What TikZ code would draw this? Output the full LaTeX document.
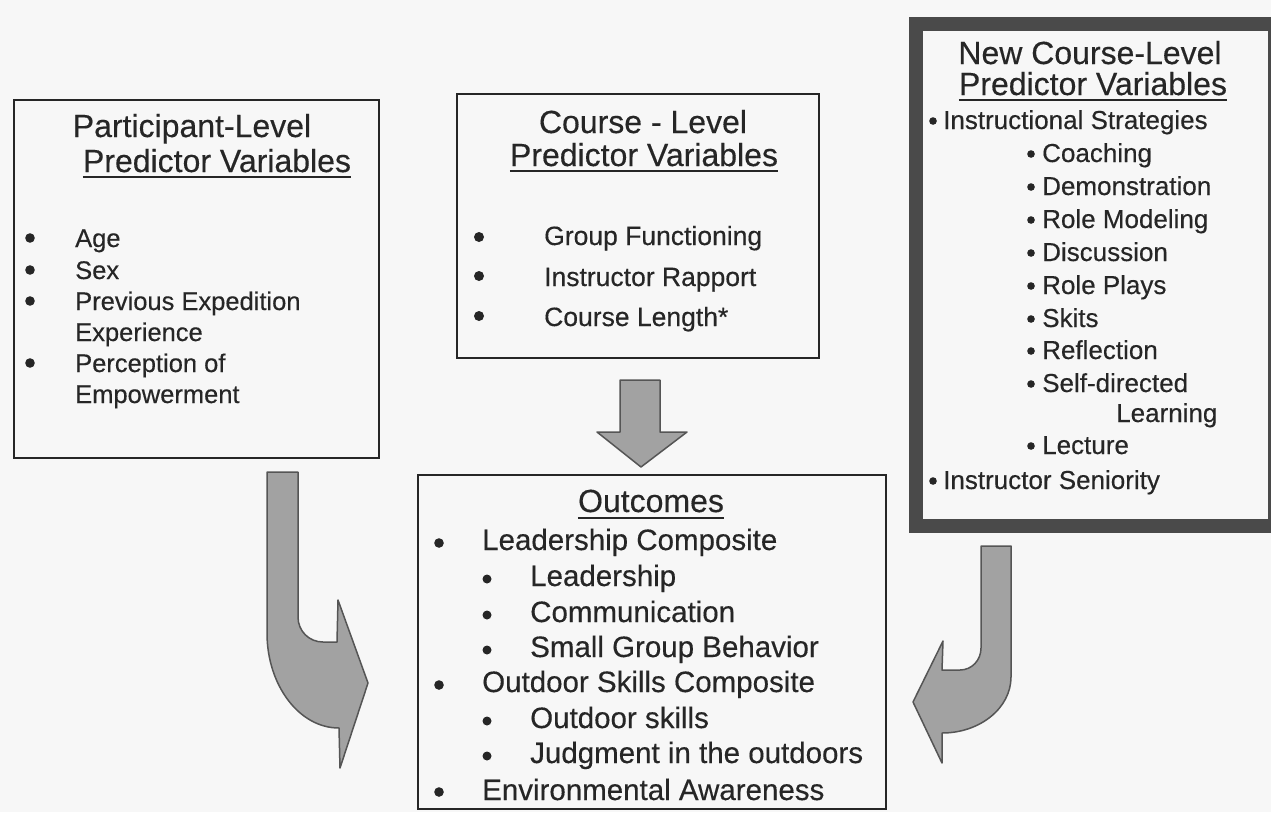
\documentclass[tikz,border=0pt]{standalone}
\usepackage{fontspec}
\setmainfont{Liberation Sans}[FakeBold=0.35]
\definecolor{ink}{HTML}{262626}
\definecolor{paper}{HTML}{F7F7F7}
\definecolor{framegray}{HTML}{4A4A4A}
\definecolor{arrowfill}{HTML}{A2A2A2}
\definecolor{arrowline}{HTML}{555555}

\begin{document}
\begin{tikzpicture}[x=1pt,y=-1pt,
  txt/.style={inner sep=0pt, anchor=base west, text=ink},
  ttl/.style={inner sep=0pt, anchor=base, text=ink, font=\fontsize{32}{38}\selectfont},
  panel/.style={draw=ink, line width=2pt, fill=paper, anchor=north west, inner sep=0pt},
  blockarrow/.style={fill=arrowfill, draw=arrowline, line width=1.5pt, line join=round},
  uline/.style={draw=ink, line width=2pt},
  dot/.style={fill=ink}]

\useasboundingbox (0,0) rectangle (1271,812);
\clip (0,0) rectangle (1271,812);
\fill[paper] (0,0) rectangle (1271,812);

% ---------- participant-level box ----------
\node[panel, minimum width=365pt, minimum height=358pt] (pbox) at (13,99) {};
\node[ttl] (pt1) at (192,137) {Participant-Level};
\node[ttl] (pt2) at (217,172) {Predictor Variables};
\draw[uline] ([yshift=-5pt]pt2.base west) -- ([yshift=-5pt]pt2.base east);
\begin{scope}[every node/.style={txt, font=\fontsize{25.5}{30}\selectfont}]
  \node (p1) at (75,247) {Age};
  \node (p2) at (75,279) {Sex};
  \node (p3) at (75,310) {Previous Expedition};
  \node (p3b) at (75,341) {Experience};
  \node (p4) at (75,372) {Perception of};
  \node (p4b) at (75,403) {Empowerment};
\end{scope}
\foreach \yy in {238,270,301,363} \fill[dot] (30,\yy) circle (4.8pt);

% ---------- course-level box ----------
\node[panel, minimum width=362pt, minimum height=264pt] (cbox) at (456,93) {};
\node[ttl] (ct1) at (643,133) {Course - Level};
\node[ttl] (ct2) at (644,166) {Predictor Variables};
\draw[uline] ([yshift=-5pt]ct2.base west) -- ([yshift=-5pt]ct2.base east);
\begin{scope}[every node/.style={txt, font=\fontsize{26.5}{31}\selectfont}]
  \node (c1) at (544,245) {Group Functioning};
  \node (c2) at (544,286) {Instructor Rapport};
  \node (c3) at (544,326) {Course Length*};
\end{scope}
\foreach \yy in {237,276,316} \fill[dot] (479,\yy) circle (5pt);

% ---------- new course-level box (heavy frame) ----------
\node[draw=framegray, line width=14pt, fill=paper, anchor=north west, inner sep=0pt,
      minimum width=359pt, minimum height=502pt] (nbox) at (909,17) {};
\node[ttl, font=\fontsize{32}{38}\selectfont] (nt1) at (1090,64) {New Course-Level};
\node[ttl, font=\fontsize{32}{38}\selectfont] (nt2) at (1093,95) {Predictor Variables};
\draw[uline] ([yshift=-5pt]nt2.base west) -- ([yshift=-5pt]nt2.base east);
\begin{scope}[every node/.style={txt, font=\fontsize{26}{30}\selectfont}]
  \node (n1) at (943,129) {Instructional Strategies};
  \node (n2) at (1042,162) {Coaching};
  \node (n3) at (1042,195) {Demonstration};
  \node (n4) at (1042,228) {Role Modeling};
  \node (n5) at (1042,261) {Discussion};
  \node (n6) at (1042,294) {Role Plays};
  \node (n7) at (1042,327) {Skits};
  \node (n8) at (1042,359) {Reflection};
  \node (n9) at (1042,392) {Self-directed};
  \node (n9b) at (1116,422) {Learning};
  \node (n10) at (1042,454) {Lecture};
  \node (n11) at (943,489) {Instructor Seniority};
\end{scope}
\foreach \yy in {121,481} \fill[dot] (933,\yy) circle (3.8pt);
\foreach \yy in {154,187,220,253,286,319,351,384,446} \fill[dot] (1031,\yy) circle (3.8pt);

% ---------- outcomes box ----------
\node[panel, minimum width=468pt, minimum height=334pt] (obox) at (417,474) {};
\node[ttl] (ot) at (651,512) {Outcomes};
\draw[uline] ([yshift=-6pt]ot.base west) -- ([yshift=-6pt]ot.base east);
\begin{scope}[every node/.style={txt, font=\fontsize{29.5}{35}\selectfont}]
  \node (o1) at (482,550) {Leadership Composite};
  \node (o2) at (530,586) {Leadership};
  \node (o3) at (530,622) {Communication};
  \node (o4) at (530,657) {Small Group Behavior};
  \node (o5) at (482,692) {Outdoor Skills Composite};
  \node (o6) at (530,728) {Outdoor skills};
  \node (o7) at (530,763) {Judgment in the outdoors};
  \node (o8) at (482,800) {Environmental Awareness};
\end{scope}
\foreach \yy in {543,685,792} \fill[dot] (439,\yy) circle (4.8pt);
\foreach \yy in {579,615,650,721,756} \fill[dot] (487,\yy) circle (4.5pt);

% ---------- block arrows into the outcomes box ----------
% straight arrow from the course-level box
\filldraw[blockarrow] (620,380) -- (660,380) -- (660,432) -- (687,432) -- (641,467)
  -- (597,432) -- (620,432) -- cycle;

% curved arrow from the participant-level box
\filldraw[blockarrow] (267,472) -- (298,472) -- (298,617)
  .. controls (298,631) and (309,642) .. (323,642) -- (337,642) -- (338,600)
  -- (368,683) -- (340,768) -- (339,728)
  .. controls (299,728) and (267,685) .. (267,633) -- cycle;

% curved arrow from the new course-level box
\filldraw[blockarrow] (1011,546) -- (981,546) -- (981,648)
  .. controls (981,660) and (972,670) .. (960,670) -- (942,670) -- (943,641)
  -- (913,702) -- (942,763) -- (942,733)
  .. controls (980,733) and (1011,708) .. (1011,677) -- cycle;

\end{tikzpicture}
\end{document}
